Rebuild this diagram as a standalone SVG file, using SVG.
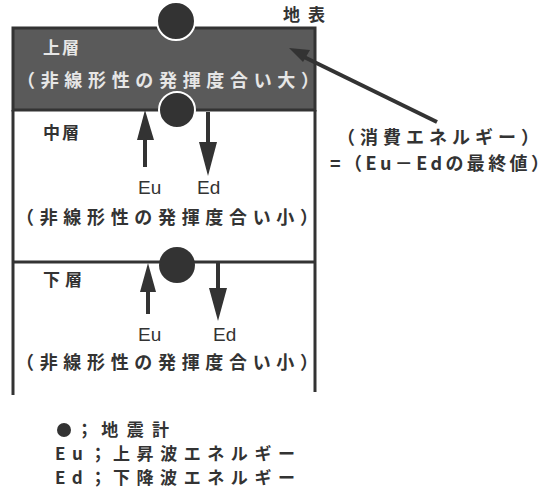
<svg xmlns="http://www.w3.org/2000/svg" width="554" height="489" viewBox="0 0 554 489">
<style>
text{font-family:"Noto Sans CJK JP","Noto Sans",sans-serif;font-weight:700;fill:#333;}
.lbl{font-size:18px;}
.lay{font-size:17px;}
.leg{font-size:17px;}
.ew{font-family:"Liberation Sans","Noto Sans CJK JP",sans-serif;font-weight:normal;font-size:19px;fill:#333;}
.up{fill:#e6e6e6;}
.ln{stroke:#333;stroke-width:3;fill:none;}
.seis{fill:#333;}
.arr{fill:#333;}
</style>
<rect width="554" height="489" fill="#fff"/>
<g id="layers">
  <g id="upper">
    <rect x="13" y="28" width="302" height="82" fill="#5a5a5a" stroke="#333" stroke-width="3"/>
    <text class="lay up" x="43" y="54" textLength="36" lengthAdjust="spacing">上層</text>
    <text class="lbl up" x="17" y="87" textLength="302" lengthAdjust="spacing">（非線形性の発揮度合い大）</text>
  </g>
  <g id="middle">
    <line class="ln" x1="13" y1="110" x2="13" y2="262"/>
    <line class="ln" x1="315" y1="110" x2="315" y2="262"/>
    <text class="lay" x="43" y="139" textLength="36" lengthAdjust="spacing">中層</text>
    <text class="lbl" x="16" y="224" textLength="302" lengthAdjust="spacing">（非線形性の発揮度合い小）</text>
  </g>
  <g id="lower">
    <line class="ln" x1="13" y1="262" x2="315" y2="262"/>
    <line class="ln" x1="13" y1="262" x2="13" y2="395"/>
    <line class="ln" x1="315" y1="262" x2="315" y2="392"/>
    <text class="lay" x="43" y="286" textLength="39" lengthAdjust="spacing">下層</text>
    <text class="lbl" x="16" y="369" textLength="302" lengthAdjust="spacing">（非線形性の発揮度合い小）</text>
  </g>
  <text id="surface" class="lay" x="283" y="21" textLength="42" lengthAdjust="spacing">地表</text>
</g>
<g id="seismometers">
  <circle class="seis" cx="176" cy="21" r="19" stroke="#fff" stroke-width="2"/>
  <circle class="seis" cx="177" cy="110" r="18" stroke="#fff" stroke-width="2"/>
  <circle class="seis" cx="177" cy="265" r="18"/>
</g>
<g id="connectors">
  <rect class="arr" x="143" y="138" width="4" height="29"/>
  <polygon class="arr" points="145,110 137,140 154,140"/>
  <rect class="arr" x="206" y="112" width="4" height="32"/>
  <polygon class="arr" points="208,176 199,142 217,142"/>
  <rect class="arr" x="146" y="290" width="4" height="24"/>
  <polygon class="arr" points="148,263 140,292 156,292"/>
  <rect class="arr" x="216" y="263" width="4" height="27"/>
  <polygon class="arr" points="218,321 209,288 227,288"/>
  <line x1="302" y1="56" x2="437" y2="122" stroke="#333" stroke-width="4"/>
  <polygon class="arr" points="289,48 310,50 303,62"/>
</g>
<g id="wave-labels">
  <text class="ew" x="138" y="194">Eu</text>
  <text class="ew" x="197" y="194">Ed</text>
  <text class="ew" x="138" y="341">Eu</text>
  <text class="ew" x="213" y="341">Ed</text>
</g>
<g id="note">
  <text class="lbl" x="337" y="144" textLength="202" lengthAdjust="spacing">（消費エネルギー）</text>
  <text class="lbl" x="330" y="170" textLength="219" lengthAdjust="spacing">=（Eu－Edの最終値）</text>
</g>
<g id="legend">
  <circle class="seis" cx="64" cy="430" r="7"/>
  <text class="leg" x="76" y="436" textLength="93" lengthAdjust="spacing">；地震計</text>
  <text class="leg" x="55" y="460" textLength="240" lengthAdjust="spacing">Eu；上昇波エネルギー</text>
  <text class="leg" x="55" y="484" textLength="240" lengthAdjust="spacing">Ed；下降波エネルギー</text>
</g>
</svg>
